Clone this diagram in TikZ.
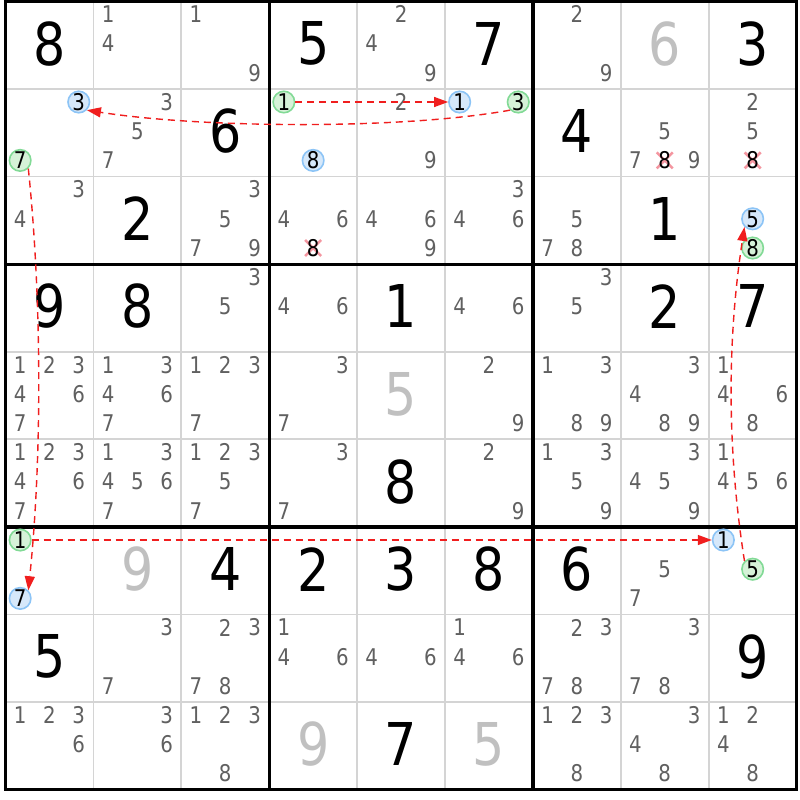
\documentclass[tikz,border=0pt]{standalone}
\usepackage{fontspec}
\setmainfont{DejaVu Sans}[FakeStretch=0.86]
\usetikzlibrary{arrows.meta}
\definecolor{candc}{RGB}{96,96,96}
\definecolor{givgrey}{RGB}{192,192,192}
\definecolor{thinline}{RGB}{212,212,212}
\definecolor{bfill}{RGB}{214,232,250}
\definecolor{bdraw}{RGB}{140,196,246}
\definecolor{gfill}{RGB}{214,242,216}
\definecolor{gdraw}{RGB}{130,218,150}
\definecolor{arrred}{RGB}{240,30,30}
\definecolor{xred}{RGB}{244,150,160}
\tikzset{
  given/.style={inner sep=0pt, font=\fontsize{59}{59}\selectfont},
  cand/.style={inner sep=0pt, text=candc, font=\fontsize{23}{23}\selectfont},
  bcirc/.style={cand, text=black, circle, draw=bdraw, fill=bfill, line width=1.6pt, minimum size=21.5pt},
  gcirc/.style={cand, text=black, circle, draw=gdraw, fill=gfill, line width=1.6pt, minimum size=21.5pt},
  link/.style={arrred, line width=1.4pt, dash pattern=on 7pt off 5pt, -{Triangle[length=14pt,width=10pt]}},
}
\newcommand{\giv}[4]{\node[given,text=#4] (g#1#2) at ({5.5+(#2-0.5)*87.9},{1.3+(#1-0.5)*87.6-1.5}) {#3};}
\newcommand{\cands}[3]{\foreach \d in {#3} {\node[cand] (c#1#2\d) at ({5.5+(#2-1)*87.9+(2*mod(\d-1,3)+1)*14.65},{1.3+(#1-1)*87.6+(2*floor((\d-1)/3)+1)*14.6-1.5}) {\d};}}
\newcommand{\candB}[3]{\node[bcirc] (c#1#2#3) at ({5.5+(#2-1)*87.9+(2*mod(#3-1,3)+1)*14.65},{1.3+(#1-1)*87.6+(2*floor((#3-1)/3)+1)*14.6-1.5}) {#3};}
\newcommand{\candG}[3]{\node[gcirc] (c#1#2#3) at ({5.5+(#2-1)*87.9+(2*mod(#3-1,3)+1)*14.65},{1.3+(#1-1)*87.6+(2*floor((#3-1)/3)+1)*14.6-1.5}) {#3};}
\newcommand{\candX}[3]{\coordinate (x#1#2#3) at ({5.5+(#2-1)*87.9+(2*mod(#3-1,3)+1)*14.65},{1.3+(#1-1)*87.6+(2*floor((#3-1)/3)+1)*14.6-1.5});
  \draw[xred, line width=2.6pt] ([shift={(-8,-8)}]x#1#2#3) -- ([shift={(8,8)}]x#1#2#3) ([shift={(-8,8)}]x#1#2#3) -- ([shift={(8,-8)}]x#1#2#3);
  \node[cand,text=black] (c#1#2#3) at (x#1#2#3) {#3};}
\begin{document}
\begin{tikzpicture}[x=1pt,y=-1pt]
\useasboundingbox (0,0) rectangle (800,800);
\fill[white] (0,0) rectangle (800,800);
% thin grid
\foreach \i in {1,2,4,5,7,8} {
  \draw[thinline, line width=1.8pt] ({5.5+\i*87.9},1.3) -- ({5.5+\i*87.9},789.7);
  \draw[thinline, line width=1.8pt] (5.5,{1.3+\i*87.6}) -- (796.6,{1.3+\i*87.6});
}
\foreach \i in {0,3,6,9} {
  \draw[black, line width=3.2pt] ({5.5+\i*87.9},-0.3) -- ({5.5+\i*87.9},791.3);
  \draw[black, line width=3.2pt] (3.9,{1.3+\i*87.6}) -- (798.2,{1.3+\i*87.6});
}
% givens
\giv{1}{1}{8}{black}\giv{1}{4}{5}{black}\giv{1}{6}{7}{black}\giv{1}{8}{6}{givgrey}\giv{1}{9}{3}{black}
\giv{2}{3}{6}{black}\giv{2}{7}{4}{black}
\giv{3}{2}{2}{black}\giv{3}{8}{1}{black}
\giv{4}{1}{9}{black}\giv{4}{2}{8}{black}\giv{4}{5}{1}{black}\giv{4}{8}{2}{black}\giv{4}{9}{7}{black}
\giv{5}{5}{5}{givgrey}
\giv{6}{5}{8}{black}
\giv{7}{2}{9}{givgrey}\giv{7}{3}{4}{black}\giv{7}{4}{2}{black}\giv{7}{5}{3}{black}\giv{7}{6}{8}{black}\giv{7}{7}{6}{black}
\giv{8}{1}{5}{black}\giv{8}{9}{9}{black}
\giv{9}{4}{9}{givgrey}\giv{9}{5}{7}{black}\giv{9}{6}{5}{givgrey}
% candidates
\cands{1}{2}{1,4}\cands{1}{3}{1,9}\cands{1}{5}{2,4,9}\cands{1}{7}{2,9}
\candB{2}{1}{3}\candG{2}{1}{7}\cands{2}{2}{3,5,7}\candG{2}{4}{1}\candB{2}{4}{8}\cands{2}{5}{2,9}
\candB{2}{6}{1}\candG{2}{6}{3}\cands{2}{8}{5,7,9}\candX{2}{8}{8}\cands{2}{9}{2,5}\candX{2}{9}{8}
\cands{3}{1}{3,4}\cands{3}{3}{3,5,7,9}\cands{3}{4}{4,6}\candX{3}{4}{8}\cands{3}{5}{4,6,9}\cands{3}{6}{3,4,6}\cands{3}{7}{5,7,8}
\candB{3}{9}{5}\candG{3}{9}{8}
\cands{4}{3}{3,5}\cands{4}{4}{4,6}\cands{4}{6}{4,6}\cands{4}{7}{3,5}
\cands{5}{1}{1,2,3,4,6,7}\cands{5}{2}{1,3,4,6,7}\cands{5}{3}{1,2,3,7}\cands{5}{4}{3,7}\cands{5}{6}{2,9}
\cands{5}{7}{1,3,8,9}\cands{5}{8}{3,4,8,9}\cands{5}{9}{1,4,6,8}
\cands{6}{1}{1,2,3,4,6,7}\cands{6}{2}{1,3,4,5,6,7}\cands{6}{3}{1,2,3,5,7}\cands{6}{4}{3,7}\cands{6}{6}{2,9}
\cands{6}{7}{1,3,5,9}\cands{6}{8}{3,4,5,9}\cands{6}{9}{1,4,5,6}
\candG{7}{1}{1}\candB{7}{1}{7}\cands{7}{8}{5,7}\candB{7}{9}{1}\candG{7}{9}{5}
\cands{8}{2}{3,7}\cands{8}{3}{2,3,7,8}\cands{8}{4}{1,4,6}\cands{8}{5}{4,6}\cands{8}{6}{1,4,6}\cands{8}{7}{2,3,7,8}\cands{8}{8}{3,7,8}
\cands{9}{1}{1,2,3,6}\cands{9}{2}{3,6}\cands{9}{3}{1,2,3,8}\cands{9}{7}{1,2,3,8}\cands{9}{8}{3,4,8}\cands{9}{9}{1,2,4,8}
% links
\draw[link] (c241.east) -- (c261.west);
\draw[link] (c263.south west) .. controls (400,130) and (200,128) .. (c213.south east);
\draw[link] (c217.south east) .. controls (42,300) and (42,460) .. (c717.north east);
\draw[link] (c711.east) -- (c791.west);
\draw[link] (c795.north west) .. controls (727,450) and (727,340) .. (c395.south west);
\end{tikzpicture}
\end{document}
